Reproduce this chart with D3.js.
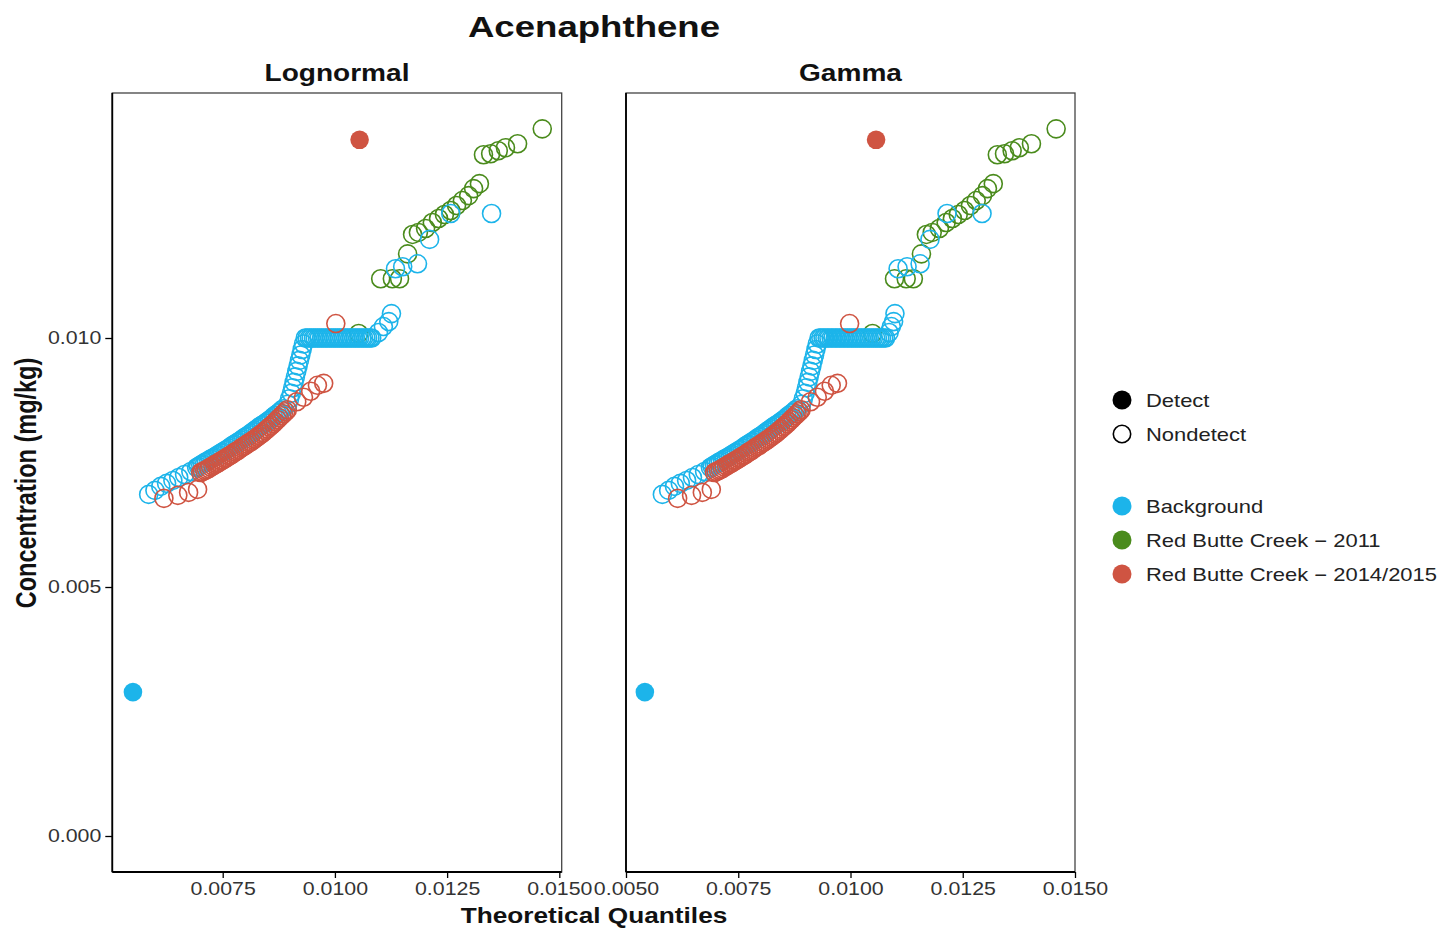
<!DOCTYPE html>
<html><head><meta charset="utf-8">
<script src="https://cdn.jsdelivr.net/npm/d3@7"></script>
<style>
body{margin:0;background:#fff;}
svg{display:block;font-family:"Liberation Sans",Arial,Helvetica,sans-serif;}
</style>
</head><body>
<svg id="chart" width="1445" height="931"></svg>
<script>
// ---------------- DATA ----------------
const chartTitle = "Acenaphthene";
const panelTitles = ["Lognormal", "Gamma"];
const xTickValues = [0.0050, 0.0075, 0.0100, 0.0125, 0.0150];
const yTickValues = [0.000, 0.005, 0.010];
const seriesNames = ["Background", "Red Butte Creek - 2011", "Red Butte Creek - 2014/2015"];
const detectNames = ["Detect", "Nondetect"];

// Background
const bgConc = [0.00289,
 0.00686,0.00694,0.00702,0.00708,0.00714,0.00720,0.00726,0.00732,
 0.00740,0.00742,0.00745,0.00747,0.00750,0.00752,0.00754,0.00757,0.00759,0.00761,0.00764,0.00766,0.00769,0.00771,0.00774,0.00776,0.00779,0.00782,0.00785,0.00787,0.00790,0.00792,0.00795,0.00798,0.00801,0.00803,0.00806,0.00809,0.00812,0.00815,0.00818,0.00821,0.00824,0.00826,0.00829,0.00832,0.00835,0.00838,0.00842,0.00845,0.00848,0.00851,0.00855,0.00858,
 0.00867,0.00878,0.00889,0.00900,0.00911,0.00922,0.00933,0.00944,0.00955,0.00966,0.00977,0.00988,
 0.0100,0.0100,0.0100,0.0100,0.0100,0.0100,0.0100,0.0100,0.0100,0.0100,0.0100,0.0100,0.0100,0.0100,0.0100,0.0100,0.0100,
 0.0100,0.0100,0.0100,0.0100,0.0100,0.0100,0.0100,0.0100,0.0100,0.0100,0.0100,0.0100,0.0100,0.0100,0.0100,0.0100,0.0100,
 0.01011,0.01023,0.01033,0.01049,
 0.01139,0.01143,0.01149,0.01198,0.01250,0.01250];
const bgQLognormal = [0.00550,
 0.00585,0.00599,0.00612,0.00625,0.00639,0.00652,0.00665,0.00679,
 0.00692,0.00696,0.00701,0.00705,0.00710,0.00714,0.00719,0.00723,0.00728,0.00732,0.00737,0.00741,0.00746,0.00750,0.00755,0.00759,0.00764,0.00768,0.00773,0.00777,0.00782,0.00786,0.00791,0.00795,0.00800,0.00804,0.00809,0.00813,0.00818,0.00822,0.00827,0.00831,0.00836,0.00840,0.00845,0.00849,0.00854,0.00858,0.00863,0.00867,0.00872,0.00876,0.00881,0.00885,
 0.00895,0.00899,0.00903,0.00906,0.00909,0.00912,0.00915,0.00918,0.00921,0.00924,0.00927,0.00930,
 0.00934,0.00938,0.00943,0.00947,0.00952,0.00956,0.00961,0.00965,0.00970,0.00974,0.00979,0.00983,0.00988,0.00992,0.00997,0.01001,0.01006,
 0.01010,0.01015,0.01019,0.01024,0.01028,0.01033,0.01037,0.01042,0.01046,0.01051,0.01055,0.01060,0.01064,0.01069,0.01073,0.01078,0.01082,
 0.01097,0.01108,0.01120,0.01126,
 0.01135,0.01151,0.01184,0.01211,0.01258,0.01349];
const bgQGamma = [0.00542,
 0.00581,0.00595,0.00608,0.00621,0.00635,0.00648,0.00661,0.00675,
 0.00688,0.00692,0.00697,0.00701,0.00706,0.00710,0.00715,0.00719,0.00724,0.00728,0.00733,0.00737,0.00742,0.00746,0.00751,0.00755,0.00760,0.00764,0.00769,0.00773,0.00778,0.00782,0.00787,0.00791,0.00796,0.00800,0.00805,0.00809,0.00814,0.00818,0.00823,0.00827,0.00832,0.00836,0.00841,0.00845,0.00850,0.00854,0.00859,0.00863,0.00868,0.00872,0.00877,0.00881,
 0.00891,0.00895,0.00899,0.00902,0.00905,0.00908,0.00911,0.00914,0.00917,0.00920,0.00923,0.00926,
 0.00930,0.00934,0.00939,0.00943,0.00948,0.00952,0.00957,0.00961,0.00966,0.00970,0.00975,0.00979,0.00984,0.00988,0.00993,0.00997,0.01002,
 0.01006,0.01011,0.01015,0.01020,0.01024,0.01029,0.01033,0.01038,0.01042,0.01047,0.01051,0.01056,0.01060,0.01065,0.01069,0.01074,0.01078,
 0.01086,0.01091,0.01096,0.01099,
 0.01106,0.01126,0.01155,0.01177,0.01215,0.01293];
const bgDetect = ["D"];

// Red Butte Creek - 2011
const rb11Conc = [0.01009,0.01119,0.01119,0.01119,0.01169,0.01208,0.01212,0.01220,0.01232,0.01240,0.01248,0.01256,0.01266,0.01276,0.01286,0.01300,0.01310,0.01368,0.01370,0.01376,0.01382,0.01390,0.01420];
const rb11QLognormal = [0.01053,0.01102,0.01128,0.01144,0.01162,0.01173,0.01186,0.01202,0.01217,0.01231,0.01244,0.01258,0.01271,0.01284,0.01298,0.01309,0.01322,0.01331,0.01347,0.01364,0.01380,0.01407,0.01462];
const rb11QGamma = [0.01049,0.01098,0.01124,0.01140,0.01158,0.01169,0.01182,0.01198,0.01213,0.01227,0.01240,0.01254,0.01267,0.01280,0.01294,0.01305,0.01318,0.01327,0.01343,0.01360,0.01376,0.01403,0.01458];
const rb11Detect = [];

// Red Butte Creek - 2014/2015
const rb15Conc = [0.01398,
 0.00678,0.00684,0.00690,0.00696,
 0.00730,0.00732,0.00734,0.00736,0.00738,0.00741,0.00743,0.00746,0.00748,0.00750,0.00753,0.00755,0.00758,0.00760,0.00763,0.00765,0.00768,0.00771,0.00773,0.00776,0.00779,0.00782,0.00784,0.00787,0.00790,0.00792,0.00795,0.00798,0.00801,0.00804,0.00807,0.00810,0.00814,0.00817,0.00821,0.00824,0.00828,0.00832,0.00836,0.00840,0.00844,0.00848,0.00852,0.00856,
 0.00872,0.00881,0.00893,0.00905,0.00909,0.01029];
const rb15QLognormal = [0.01055,
 0.00619,0.00650,0.00674,0.00694,
 0.00701,0.00705,0.00710,0.00714,0.00719,0.00723,0.00728,0.00732,0.00737,0.00741,0.00746,0.00750,0.00755,0.00759,0.00764,0.00768,0.00773,0.00777,0.00782,0.00786,0.00791,0.00795,0.00800,0.00804,0.00809,0.00813,0.00818,0.00822,0.00827,0.00831,0.00836,0.00840,0.00845,0.00849,0.00854,0.00858,0.00863,0.00867,0.00872,0.00876,0.00881,0.00885,0.00890,0.00894,
 0.00915,0.00930,0.00946,0.00961,0.00975,0.01002];
const rb15QGamma = [0.01057,
 0.00615,0.00646,0.00670,0.00690,
 0.00697,0.00701,0.00706,0.00710,0.00715,0.00719,0.00724,0.00728,0.00733,0.00737,0.00742,0.00746,0.00751,0.00755,0.00760,0.00764,0.00769,0.00773,0.00778,0.00782,0.00787,0.00791,0.00796,0.00800,0.00805,0.00809,0.00814,0.00818,0.00823,0.00827,0.00832,0.00836,0.00841,0.00845,0.00850,0.00854,0.00859,0.00863,0.00868,0.00872,0.00877,0.00881,0.00886,0.00890,
 0.00911,0.00926,0.00942,0.00957,0.00971,0.00998];
const rb15Detect = ["D"];

const seriesColors = ["#1cb4ea", "#4a8b1c", "#cf5442"];

// ---------------- BUILD ----------------
function buildSeries(conc, qLog, qGam, detectFlags, idx) {
  return conc.map((c, i) => ({
    conc: c, qLog: qLog[i], qGam: qGam[i],
    detect: detectFlags[i] === "D", series: idx
  }));
}
const allSeries = [
  buildSeries(rb11Conc, rb11QLognormal, rb11QGamma, rb11Detect, 1),
  buildSeries(bgConc, bgQLognormal, bgQGamma, bgDetect, 0),
  buildSeries(rb15Conc, rb15QLognormal, rb15QGamma, rb15Detect, 2)
];

const SX = 1.22; // horizontal text stretch of the reference
const svg = d3.select("#chart");

function addText(x, yy, s, size, weight, anchor, fill, rotate) {
  return svg.append("text")
    .attr("transform", `translate(${x},${yy}) scale(${SX},1)` + (rotate ? " rotate(-90)" : ""))
    .attr("text-anchor", anchor)
    .attr("font-size", size)
    .attr("font-weight", weight)
    .attr("fill", fill)
    .text(s);
}

const panelTop = 93, panelBottom = 872;
const yScale = d3.scaleLinear().domain([-0.000723, 0.01492]).range([panelBottom, panelTop]);

const panels = [
  {title: panelTitles[0], x0: 112.3, x1: 561.7, domain: [0.00504, 0.015053], key: "qLog", yAxis: true},
  {title: panelTitles[1], x0: 626, x1: 1075, domain: [0.0050, 0.0150], key: "qGam", yAxis: false}
];

panels.forEach(p => {
  const x = d3.scaleLinear().domain(p.domain).range([p.x0, p.x1]);
  const g = svg.append("g");
  g.append("rect").attr("x", p.x0).attr("y", panelTop).attr("width", p.x1 - p.x0).attr("height", panelBottom - panelTop)
    .attr("fill", "none").attr("stroke", "#444").attr("stroke-width", 1.3);

  allSeries.forEach(ser => {
    g.append("g").selectAll("circle").data(ser).join("circle")
      .attr("cx", d => x(d[p.key]))
      .attr("cy", d => yScale(d.conc))
      .attr("r", d => d.detect ? 9.3 : 9)
      .attr("fill", d => d.detect ? seriesColors[d.series] : "none")
      .attr("stroke", d => seriesColors[d.series])
      .attr("stroke-width", d => d.detect ? 0 : 1.6);
  });

  const ticks = xTickValues.filter(v => v >= p.domain[0] - 1e-9 && v <= p.domain[1] + 1e-9);
  const xa = g.append("g").attr("transform", `translate(0,${panelBottom})`)
    .call(d3.axisBottom(x).tickValues(ticks).tickFormat(d3.format(".4f")).tickSize(6).tickSizeOuter(0));
  xa.select(".domain").remove();
  xa.selectAll(".tick line").attr("stroke", "#000").attr("stroke-width", 1.3);
  xa.selectAll(".tick text").attr("font-size", 17.5).attr("fill", "#333").attr("y", 11)
    .attr("font-family", "Liberation Sans, Arial, sans-serif")
    .attr("transform", `scale(${SX},1)`);
  g.append("line").attr("x1", p.x0).attr("x2", p.x1).attr("y1", panelBottom).attr("y2", panelBottom)
    .attr("stroke", "#000").attr("stroke-width", 1.8);
  g.append("line").attr("x1", p.x0).attr("x2", p.x0).attr("y1", panelTop).attr("y2", panelBottom)
    .attr("stroke", "#000").attr("stroke-width", 1.8);

  if (p.yAxis) {
    const ya = g.append("g").attr("transform", `translate(${p.x0},0)`)
      .call(d3.axisLeft(yScale).tickValues(yTickValues).tickFormat(d3.format(".3f")).tickSize(7).tickSizeOuter(0));
    ya.select(".domain").remove();
    ya.selectAll(".tick line").attr("stroke", "#000").attr("stroke-width", 1.3);
    ya.selectAll(".tick text").attr("font-size", 17.5).attr("fill", "#333").attr("x", -9)
      .attr("font-family", "Liberation Sans, Arial, sans-serif")
      .attr("transform", `scale(${SX},1)`);
  }

  addText((p.x0 + p.x1) / 2, 81, p.title, 23, "bold", "middle", "#111");
});

addText(594, 37, chartTitle, 30, "bold", "middle", "#111");
addText(594, 923, "Theoretical Quantiles", 21.5, "bold", "middle", "#111");
addText(36, 483, "Concentration (mg/kg)", 23.5, "bold", "middle", "#111", true);

const lg = svg.append("g");
const legendItems = [
  {label: detectNames[0], y: 400, fill: "#000", stroke: "none"},
  {label: detectNames[1], y: 434, fill: "none", stroke: "#000"},
  {label: seriesNames[0], y: 506, fill: seriesColors[0], stroke: "none"},
  {label: seriesNames[1].replace("-", "\u2212"), y: 540, fill: seriesColors[1], stroke: "none"},
  {label: seriesNames[2].replace("-", "\u2212"), y: 574, fill: seriesColors[2], stroke: "none"}
];
legendItems.forEach(it => {
  lg.append("circle").attr("cx", 1122).attr("cy", it.y).attr("r", it.stroke === "none" ? 9.5 : 8.7)
    .attr("fill", it.fill).attr("stroke", it.stroke).attr("stroke-width", 1.6);
  addText(1146, it.y + 6.5, it.label, 18, "normal", "start", "#222");
});
</script>
</body></html>
